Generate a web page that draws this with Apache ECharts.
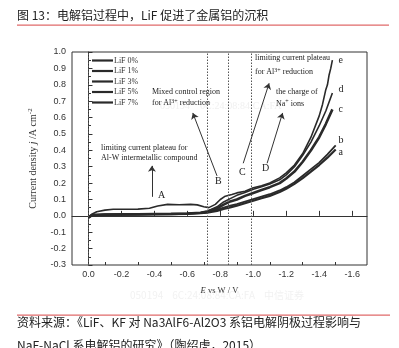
<!DOCTYPE html>
<html><head><meta charset="utf-8">
<script src="https://cdn.jsdelivr.net/npm/echarts@6/dist/echarts.min.js"></script>
<style>html,body{margin:0;padding:0;background:#fff;}#c{width:399px;height:348px;}</style>
</head><body><div id="c"></div>
<script>
// ---- data ----
var seriesNames = ['LiF 0%', 'LiF 1%', 'LiF 3%', 'LiF 5%', 'LiF 7%'];
var curveLetters = ['a', 'b', 'c', 'd', 'e'];
var xTickMajor = [0, -0.2, -0.4, -0.6, -0.8, -1.0, -1.2, -1.4, -1.6];
var xTickMinor = [-0.1, -0.3, -0.5, -0.7, -0.9, -1.1, -1.3, -1.5];
var regionBounds = [0, -0.72, -0.85, -0.99];
// LiF 0% (a)
var curveA = [[0,-0.012],[-0.02,0.002],[-0.1,0.006],[-0.2,0.007],[-0.3,0.008],[-0.4,0.009],[-0.5,0.01],[-0.6,0.012],[-0.68,0.016],[-0.72,0.02],[-0.78,0.03],[-0.82,0.042],[-0.86,0.052],[-0.9,0.062],[-0.95,0.077],[-1.0,0.092],[-1.05,0.107],[-1.1,0.122],[-1.16,0.145],[-1.2,0.165],[-1.25,0.195],[-1.3,0.23],[-1.35,0.27],[-1.4,0.31],[-1.45,0.355],[-1.5,0.405]];
// LiF 1% (b)
var curveB = [[0,-0.01],[-0.02,0.004],[-0.1,0.007],[-0.2,0.008],[-0.3,0.009],[-0.4,0.01],[-0.5,0.011],[-0.6,0.013],[-0.68,0.018],[-0.72,0.023],[-0.78,0.036],[-0.82,0.05],[-0.86,0.062],[-0.9,0.072],[-0.95,0.087],[-1.0,0.102],[-1.05,0.117],[-1.1,0.132],[-1.16,0.155],[-1.2,0.175],[-1.25,0.205],[-1.3,0.245],[-1.35,0.285],[-1.4,0.325],[-1.45,0.375],[-1.5,0.43]];
// LiF 3% (c)
var curveC = [[0,-0.008],[-0.02,0.005],[-0.1,0.008],[-0.2,0.009],[-0.3,0.01],[-0.4,0.011],[-0.5,0.012],[-0.6,0.014],[-0.68,0.019],[-0.72,0.026],[-0.78,0.045],[-0.82,0.068],[-0.86,0.088],[-0.9,0.1],[-0.95,0.122],[-1.0,0.14],[-1.05,0.158],[-1.1,0.175],[-1.16,0.2],[-1.2,0.228],[-1.25,0.27],[-1.3,0.33],[-1.35,0.4],[-1.4,0.48],[-1.44,0.56],[-1.48,0.65]];
// LiF 5% (d)
var curveD = [[0,-0.006],[-0.02,0.006],[-0.1,0.009],[-0.2,0.01],[-0.3,0.011],[-0.4,0.012],[-0.5,0.013],[-0.6,0.015],[-0.68,0.02],[-0.72,0.028],[-0.78,0.055],[-0.82,0.085],[-0.86,0.105],[-0.9,0.125],[-0.95,0.142],[-1.0,0.162],[-1.05,0.178],[-1.1,0.195],[-1.16,0.22],[-1.2,0.25],[-1.25,0.3],[-1.3,0.37],[-1.35,0.45],[-1.4,0.55],[-1.44,0.64],[-1.48,0.75]];
// LiF 7% (e)
var curveE = [[0,-0.01],[-0.02,0.01],[-0.05,0.025],[-0.1,0.035],[-0.15,0.04],[-0.2,0.04],[-0.3,0.041],[-0.37,0.046],[-0.42,0.06],[-0.48,0.07],[-0.55,0.068],[-0.62,0.07],[-0.66,0.067],[-0.7,0.056],[-0.73,0.05],[-0.77,0.07],[-0.8,0.1],[-0.83,0.12],[-0.87,0.13],[-0.9,0.14],[-0.95,0.15],[-1.0,0.172],[-1.05,0.183],[-1.1,0.2],[-1.16,0.232],[-1.2,0.262],[-1.25,0.31],[-1.3,0.38],[-1.35,0.48],[-1.4,0.61],[-1.42,0.68],[-1.44,0.77],[-1.45,0.8],[-1.46,0.86],[-1.47,0.9],[-1.48,0.95]];
var curves = [curveA, curveB, curveC, curveD, curveE];
var curveWidths = [2.2, 1.8, 2.6, 1.6, 1.6];
// annotation arrows [from, to] in data coordinates
var arrows = [
  [[-0.385, 0.116], [-0.385, 0.305]],
  [[-0.78, 0.244], [-0.633, 0.628]],
  [[-0.939, 0.321], [-1.096, 0.809]],
  [[-1.084, 0.321], [-1.178, 0.628]]
];

var chart = echarts.init(document.getElementById('c'), null, {renderer: 'canvas'});
var serif = 'Liberation Serif';
var sans = 'Liberation Sans';
var lineColor = '#2a2a2a';
function fmt(v) { var s = (Math.abs(v) < 1e-9 ? 0 : v).toFixed(1); return s; }

var series = curves.map(function (d, i) {
  var s = {
    name: seriesNames[i], type: 'line', data: d, symbol: 'none', xAxisIndex: 0,
    lineStyle: {color: lineColor, width: curveWidths[i]}, itemStyle: {color: lineColor},
    silent: true, animation: false, z: 3
  };
  return s;
});
series[0].markLine = {
  silent: true, symbol: ['none', 'none'], label: {show: false},
  lineStyle: {color: '#555', type: [1.5, 1.5], width: 1},
  data: regionBounds.map(function (v) { return {xAxis: v}; })
};
series[1].markLine = {
  silent: true, symbol: ['none', 'arrow'], symbolSize: 6, label: {show: false},
  lineStyle: {color: '#333', type: 'solid', width: 1},
  data: arrows.map(function (a) { return [{coord: a[0]}, {coord: a[1]}]; })
};

var supRich = {s: {fontSize: 6, verticalAlign: 'top', fontFamily: serif, fill: '#222', padding: [0, 0, 4, 0]}, n: {fontSize: 8, fontFamily: serif, fill: '#222'}};

var graphics = [
  {type: 'text', left: 17, top: 9, style: {text: '图 13：电解铝过程中，LiF 促进了金属铝的沉积', fill: '#222', font: '12px "Noto Sans CJK SC"'}},
  {type: 'rect', shape: {x: 17, y: 24.5, width: 372, height: 1.2}, style: {fill: '#e06a6a'}},
  {type: 'rect', shape: {x: 17, y: 314.5, width: 373, height: 1.2}, style: {fill: '#e06a6a'}},
  {type: 'text', left: 17, top: 316, style: {text: '资料来源：《LiF、KF 对 Na3AlF6-Al2O3 系铝电解阴极过程影响与', fill: '#222', font: '12px "Noto Sans CJK SC"'}},
  {type: 'text', left: 17, top: 339, style: {text: 'NaF-NaCl 系电解铝的研究》（陶绍虎，2015）', fill: '#222', font: '12px "Noto Sans CJK SC"'}},
  {type: 'text', left: 160, top: 101, z: 0, style: {text: '050194    6C:24:08:84:CA:FA', fill: '#f0f0f0', font: '10px ' + serif}},
  {type: 'text', left: 130, top: 290, z: 0, style: {text: '050194    6C:24:08:84:CA:FA    中信证券', fill: '#f2f2f2', font: '10px "Noto Sans CJK SC"'}},
  {type: 'text', left: 152, top: 88, style: {text: 'Mixed control region', fill: '#222', font: '8px ' + serif}},
  {type: 'text', left: 152, top: 98, style: {text: '{n|for Al}{s|3+}{n| reduction}', rich: supRich}},
  {type: 'text', left: 101, top: 143.5, style: {text: 'limiting current plateau for', fill: '#222', font: '8px ' + serif}},
  {type: 'text', left: 101, top: 153.5, style: {text: 'Al-W intermetallic compound', fill: '#222', font: '8px ' + serif}},
  {type: 'text', left: 255, top: 54, style: {text: 'limiting current plateau', fill: '#222', font: '8px ' + serif}},
  {type: 'text', left: 255, top: 67, style: {text: '{n|for Al}{s|3+}{n| reduction}', rich: supRich}},
  {type: 'text', left: 276, top: 87.5, style: {text: 'the charge of', fill: '#222', font: '8px ' + serif}},
  {type: 'text', left: 276, top: 98.5, style: {text: '{n|Na}{s|+}{n| ions}', rich: supRich}},
  {type: 'text', left: 158, top: 190, style: {text: 'A', fill: '#222', font: '10px ' + serif}},
  {type: 'text', left: 215, top: 176, style: {text: 'B', fill: '#222', font: '10px ' + serif}},
  {type: 'text', left: 239, top: 167, style: {text: 'C', fill: '#222', font: '10px ' + serif}},
  {type: 'text', left: 262, top: 163, style: {text: 'D', fill: '#222', font: '10px ' + serif}}
];
var letterY = [153, 141.5, 110, 90, 61.5];
curveLetters.forEach(function (l, i) {
  graphics.push({type: 'text', left: 338.5, top: letterY[i] - 6, style: {text: l, fill: '#222', font: '10px ' + serif}});
});

var axisCommon = {
  type: 'value', min: -1.69, max: 0.1, inverse: true, gridIndex: 0, position: 'bottom',
  splitLine: {show: false}
};
chart.setOption({
  animation: false,
  backgroundColor: '#fff',
  grid: {left: 72, right: 32, top: 52, bottom: 83, show: true, borderColor: '#333', borderWidth: 1, backgroundColor: 'transparent', containLabel: false},
  legend: {
    orient: 'vertical', left: 87, top: 51, itemWidth: 21, itemHeight: 2.2, itemGap: 1.5,
    icon: 'rect', data: seriesNames, selectedMode: false,
    textStyle: {fontFamily: serif, fontSize: 8, color: '#333', padding: [0, 0, 0, -4], lineHeight: 9}
  },
  xAxis: [
    Object.assign({}, axisCommon, {
      name: '{i|E}{n| vs W / V}', nameLocation: 'middle', nameGap: 21,
      nameTextStyle: {rich: {i: {fontFamily: serif, fontStyle: 'italic', fontSize: 8.5, color: '#333'}, n: {fontFamily: serif, fontSize: 8.5, color: '#333'}}},
      axisLine: {show: true, lineStyle: {color: '#333', width: 1}},
      axisTick: {show: true, inside: true, length: 5, customValues: xTickMajor, lineStyle: {color: '#333'}},
      axisLabel: {show: true, customValues: xTickMajor, formatter: fmt, fontFamily: sans, fontSize: 9, color: '#333', margin: 5}
    }),
    Object.assign({}, axisCommon, {
      axisLine: {show: false},
      axisTick: {show: true, inside: true, length: 3, customValues: xTickMinor, lineStyle: {color: '#333'}},
      axisLabel: {show: false}
    })
  ],
  yAxis: {
    type: 'value', min: -0.3, max: 1.0, interval: 0.1,
    name: '{n|Current density }{i|j}{n| /A cm}{s|-2}', nameLocation: 'middle', nameGap: 33, nameRotate: 90,
    nameTextStyle: {rich: {
      n: {fontFamily: serif, fontSize: 10, color: '#333'},
      i: {fontFamily: serif, fontStyle: 'italic', fontSize: 10, color: '#333'},
      s: {fontFamily: serif, fontSize: 7, color: '#333', verticalAlign: 'top', padding: [0, 0, 5, 0]}
    }},
    splitLine: {show: false},
    axisLine: {show: true, lineStyle: {color: '#333', width: 1}},
    axisTick: {show: true, inside: true, length: 4, lineStyle: {color: '#333'}},
    minorTick: {show: true, splitNumber: 2, length: 2.5, lineStyle: {color: '#333'}},
    axisLabel: {formatter: fmt, fontFamily: sans, fontSize: 9, color: '#333', margin: 6}
  },
  series: series,
  graphic: graphics
});
</script>
</body></html>
